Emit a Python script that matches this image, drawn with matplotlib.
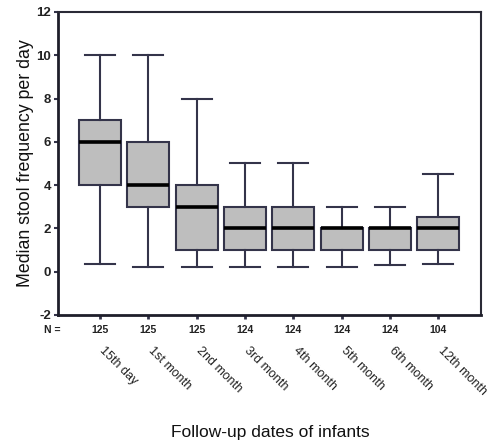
import matplotlib
matplotlib.use("Agg")
import matplotlib.pyplot as plt
from matplotlib.transforms import blended_transform_factory

plt.rcParams['font.family'] = ['Liberation Sans', 'DejaVu Sans']

categories = ["15th day", "1st month", "2nd month", "3rd month", "4th month",
              "5th month", "6th month", "12th month"]
n_values = [125, 125, 125, 124, 124, 124, 124, 104]
whislo = [0.35, 0.2, 0.2, 0.2, 0.2, 0.2, 0.3, 0.35]
q1 = [4, 3, 1, 1, 1, 1, 1, 1]
med = [6, 4, 3, 2, 2, 2, 2, 2]
q3 = [7, 6, 4, 3, 3, 2, 2, 2.5]
whishi = [10, 10, 8, 5, 5, 3, 3, 4.5]

stats = [dict(whislo=a, q1=b, med=c, q3=d, whishi=e, fliers=[], label=l)
         for a, b, c, d, e, l in zip(whislo, q1, med, q3, whishi, categories)]

fig = plt.figure(figsize=(4.92, 4.44), dpi=100)
ax = fig.add_axes([0.118, 0.291, 0.860, 0.682])

edge = '#34344a'
pos = list(range(1, len(categories) + 1))
ax.bxp(stats, positions=pos, widths=0.87, patch_artist=True, showfliers=False,
       boxprops=dict(facecolor='#bebebe', edgecolor=edge, linewidth=1.5),
       medianprops=dict(color='black', linewidth=2.6),
       whiskerprops=dict(color=edge, linewidth=1.5),
       capprops=dict(color=edge, linewidth=1.5),
       capwidths=0.62)

ax.set_xlim(0.13, 8.89)
ax.set_ylim(-2, 12)
ax.set_yticks([-2, 0, 2, 4, 6, 8, 10, 12])
ax.set_yticklabels(['-2', '0', '2', '4', '6', '8', '10', '12'], fontsize=9.5, fontweight='bold', color='#222222')
ax.set_xticks(pos)
ax.set_xticklabels([])
ax.tick_params(axis='x', length=3, width=2, color=edge)
ax.tick_params(axis='y', length=3, width=1.5, color=edge, pad=2)

for s in ['left', 'bottom']:
    ax.spines[s].set_linewidth(2.0)
    ax.spines[s].set_color('#1e1e2a')
for s in ['top', 'right']:
    ax.spines[s].set_linewidth(1.5)
    ax.spines[s].set_color('#2a2a36')

trans = blended_transform_factory(ax.transData, fig.transFigure)
ax.text(0.0, 1 - 330 / 444, 'N =', transform=trans, ha='center', va='center',
        fontsize=7.5, color='#222222', fontweight='bold')
for p, n, c in zip(pos, n_values, categories):
    ax.text(p, 1 - 330 / 444, str(n), transform=trans, ha='center', va='center',
            fontsize=7.5, color='#222222', fontweight='bold')
    ax.text(p + 0.12, 1 - 345 / 444, c, transform=trans, ha='left', va='top',
            rotation=-45, rotation_mode='anchor', fontsize=9, color='#222222')

ax.set_ylabel('Median stool frequency per day', fontsize=12.8, color='#111111', labelpad=2)
fig.text(0.549, 1 - 432 / 444, 'Follow-up dates of infants', ha='center', va='center',
         fontsize=12.5, color='#111111')

fig.savefig('out.png', dpi=100)
